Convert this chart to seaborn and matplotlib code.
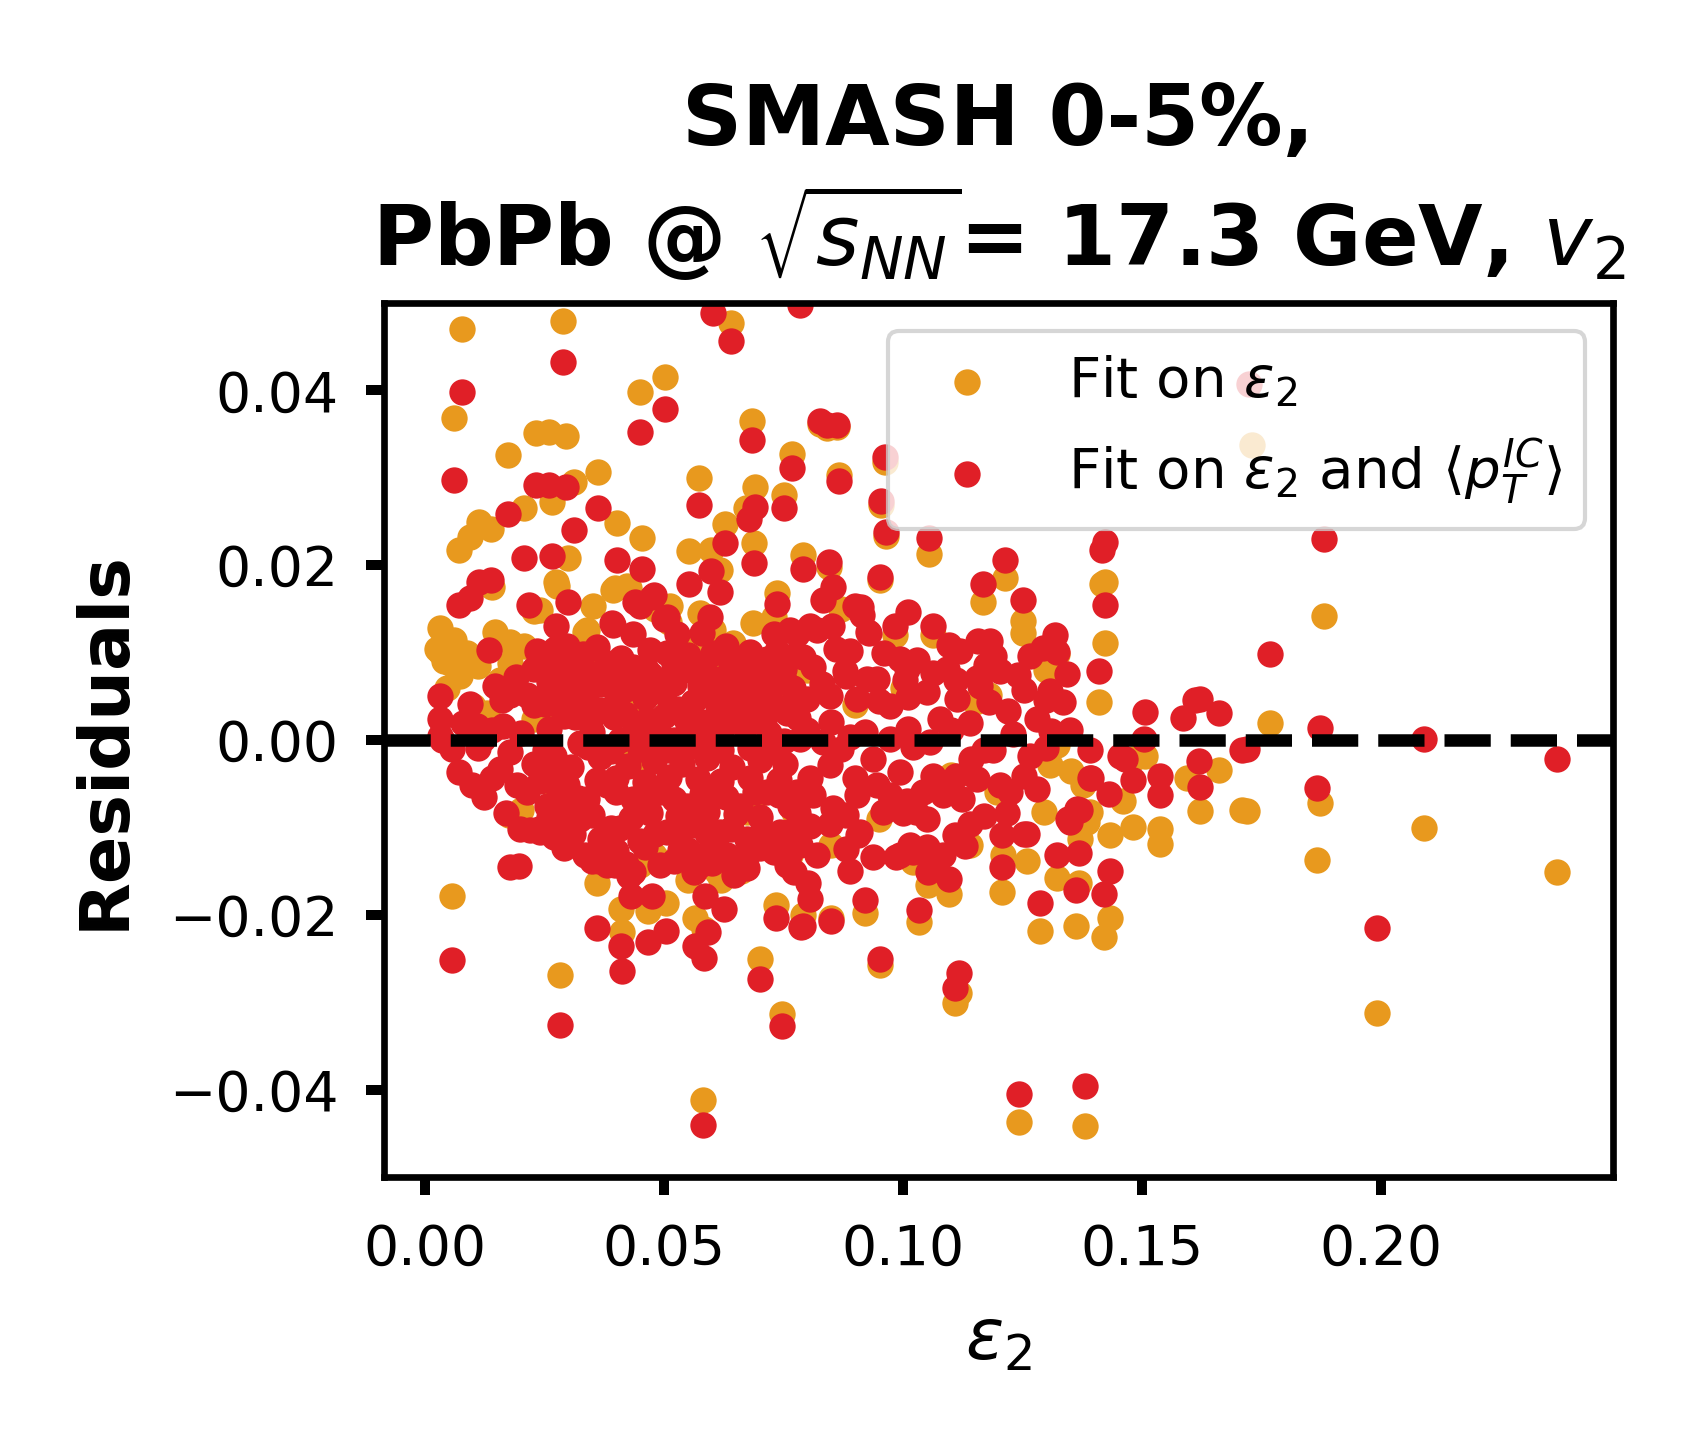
import matplotlib
matplotlib.use("Agg")
import matplotlib.pyplot as plt
import seaborn as sns

# residuals of the v2 fit, one entry per event
# fit on eps2 only (orange)
eps_fit1 = [
    0.0077, 0.0061, 0.0289, 0.0232, 0.0259, 0.0295, 0.0174, 0.0450, 0.0501, 0.0639,
    0.0683, 0.0768, 0.0362, 0.0312, 0.0265, 0.0208, 0.0402, 0.0454, 0.0574, 0.0691,
    0.0750, 0.0628, 0.0688, 0.0672, 0.0552, 0.0598, 0.0617, 0.0736, 0.0070, 0.0095,
    0.0112, 0.0137, 0.0140, 0.0299, 0.0273, 0.0228, 0.0032, 0.0032, 0.0147, 0.0335,
    0.0398, 0.0426, 0.0480, 0.0510,
    0.0826, 0.0840, 0.0861, 0.0865, 0.0962, 0.0954, 0.0964, 0.1055, 0.0791, 0.0846,
    0.0952, 0.1213, 0.1168, 0.1250, 0.1250, 0.1423, 0.1416, 0.1423, 0.1409, 0.0983,
    0.1063, 0.0870, 0.1730,
    0.1881, 0.1768, 0.1866, 0.1872, 0.2089, 0.1991, 0.2369, 0.1660, 0.1719, 0.1708,
    0.1621,
    0.1243, 0.1381, 0.1116, 0.1109, 0.0952, 0.0747, 0.1287, 0.1362, 0.1432, 0.1421,
    0.1206, 0.1321, 0.1369, 0.1432, 0.1482, 0.1538, 0.1538, 0.1594, 0.1506, 0.0791,
    0.0849, 0.0921, 0.1034, 0.1053, 0.1097, 0.1259, 0.1391, 0.1461, 0.1370, 0.1384,
    0.1352, 0.1376, 0.1210, 0.1294, 0.1140, 0.1196, 0.1321, 0.1307,
    0.0056, 0.0283, 0.0582, 0.0409, 0.0411, 0.0467, 0.0504, 0.0565, 0.0583, 0.0701,
    0.0735, 0.0175, 0.0360, 0.0492, 0.0620, 0.0660,
    0.1150, 0.1179, 0.1300, 0.1322, 0.1482,
    0.0024, 0.0052, 0.0087, 0.0073, 0.0178, 0.0206, 0.0241, 0.0276, 0.0178, 0.0157,
    0.0338, 0.0352, 0.0394, 0.0422, 0.0338, 0.0296, 0.0513, 0.0555, 0.0575, 0.0603,
    0.0617, 0.0687, 0.0729, 0.0645, 0.0101, 0.0129, 0.0227, 0.0276, 0.0436, 0.0506,
    0.0631, 0.0729, 0.0261, 0.0450, 0.0422, 0.0687, 0.0673, 0.0596, 0.0478, 0.0380,
    0.0771, 0.0764, 0.0610, 0.0450,
    0.0040, 0.0065, 0.0090, 0.0110, 0.0060, 0.0045, 0.0200, 0.0300, 0.0550, 0.0850,
    0.0900, 0.1000, 0.1100, 0.0800, 0.0950, 0.1020,
]
res_fit1 = [
    0.0470, 0.0368, 0.0479, 0.0351, 0.0352, 0.0348, 0.0326, 0.0398, 0.0415, 0.0477,
    0.0365, 0.0327, 0.0307, 0.0295, 0.0272, 0.0266, 0.0248, 0.0231, 0.0300, 0.0290,
    0.0280, 0.0247, 0.0225, 0.0265, 0.0216, 0.0217, 0.0194, 0.0168, 0.0217, 0.0232,
    0.0250, 0.0242, 0.0175, 0.0208, 0.0181, 0.0148, 0.0128, 0.0101, 0.0124, 0.0124,
    0.0174, 0.0174, 0.0150, 0.0135,
    0.0362, 0.0357, 0.0358, 0.0303, 0.0318, 0.0269, 0.0234, 0.0213, 0.0212, 0.0198,
    0.0183, 0.0185, 0.0158, 0.0136, 0.0122, 0.0181, 0.0178, 0.0111, 0.0043, 0.0120,
    0.0120, 0.0150, 0.0337,
    0.0142, 0.0019, -0.0137, -0.0072, -0.0101, -0.0312, -0.0151, -0.0034, -0.0081, -0.0080,
    -0.0081,
    -0.0437, -0.0442, -0.0289, -0.0301, -0.0258, -0.0314, -0.0219, -0.0213, -0.0204, -0.0225,
    -0.0174, -0.0158, -0.0164, -0.0109, -0.0100, -0.0102, -0.0119, -0.0043, -0.0018, -0.0200,
    -0.0204, -0.0198, -0.0208, -0.0166, -0.0176, -0.0139, -0.0082, -0.0070, -0.0113, -0.0094,
    -0.0036, -0.0052, -0.0131, -0.0082, -0.0120, -0.0060, -0.0006, -0.0029,
    -0.0179, -0.0269, -0.0412, -0.0193, -0.0220, -0.0196, -0.0187, -0.0204, -0.0216, -0.0250,
    -0.0189, -0.0086, -0.0164, -0.0139, -0.0160, -0.0150,
    0.0043, 0.0052, 0.0080, 0.0098, -0.0022,
    0.0104, 0.0088, 0.0100, 0.0073, 0.0112, 0.0107, 0.0149, 0.0176, 0.0088, 0.0069,
    0.0126, 0.0153, 0.0172, 0.0176, 0.0092, 0.0069, 0.0153, 0.0111, 0.0145, 0.0126,
    0.0096, 0.0134, 0.0141, 0.0111, 0.0039, 0.0031, 0.0024, 0.0031, 0.0039, 0.0031,
    0.0051, 0.0047, -0.0048, -0.0022, -0.0014, -0.0075, -0.0082, -0.0128, -0.0132, -0.0105,
    -0.0082, -0.0132, -0.0151, -0.0143,
    0.0090, 0.0082, 0.0095, 0.0085, 0.0115, 0.0060, -0.0080, -0.0120, -0.0160, -0.0120,
    0.0040, 0.0060, -0.0040, 0.0080, -0.0090, -0.0140,
]

# fit on eps2 and <pT^IC> (red)
eps_fit2 = [
    0.0077, 0.0061, 0.0289, 0.0232, 0.0259, 0.0295, 0.0174, 0.0450, 0.0501, 0.0639,
    0.0603, 0.0683, 0.0768, 0.0362, 0.0312, 0.0265, 0.0208, 0.0402, 0.0454, 0.0574,
    0.0691, 0.0750, 0.0628, 0.0688, 0.0677, 0.0552, 0.0598, 0.0617, 0.0736, 0.0070,
    0.0095, 0.0112, 0.0137, 0.0299, 0.0273, 0.0217, 0.0032, 0.0133, 0.0440, 0.0475,
    0.0499, 0.0391, 0.0579, 0.0603, 0.0670,
    0.0785, 0.0826, 0.0840, 0.0861, 0.0865, 0.0962, 0.0954, 0.0964, 0.1055, 0.0791,
    0.0846, 0.0853, 0.0833, 0.0952, 0.1213, 0.1168, 0.1250, 0.1423, 0.1416, 0.1423,
    0.1409, 0.1506, 0.1586, 0.1611, 0.1011, 0.1063, 0.1097, 0.0983, 0.0994, 0.0913,
    0.0927, 0.0806, 0.0851, 0.1157, 0.1182, 0.1318, 0.1293, 0.1342, 0.1220, 0.1154,
    0.1203, 0.1723,
    0.1881, 0.1768, 0.1872, 0.1866, 0.2089, 0.1991, 0.2369, 0.1660, 0.1719, 0.1708,
    0.1621, 0.1621,
    0.1243, 0.1381, 0.1116, 0.1109, 0.0952, 0.0747, 0.1287, 0.1362, 0.1421, 0.1432,
    0.1206, 0.1321, 0.1369, 0.1482, 0.1538, 0.1538, 0.1618, 0.0791, 0.0849, 0.0921,
    0.1034, 0.0889, 0.0806, 0.0802, 0.1053, 0.1097, 0.1108, 0.1140, 0.1206, 0.1259,
    0.0906, 0.0938, 0.0986, 0.1021, 0.1049, 0.1070, 0.0847, 0.1349, 0.1370, 0.1430,
    0.1464, 0.1391,
    0.0056, 0.0283, 0.0582, 0.0178, 0.0196, 0.0360, 0.0409, 0.0411, 0.0467, 0.0504,
    0.0475, 0.0430, 0.0565, 0.0583, 0.0592, 0.0586, 0.0625, 0.0701, 0.0735, 0.0786,
    0.0771, 0.0761, 0.0534, 0.0562, 0.0583, 0.0632, 0.0646, 0.0677, 0.0492, 0.0335,
    0.0363, 0.0398, 0.0426, 0.0199, 0.0238, 0.0269, 0.0070, 0.0098, 0.0123, 0.0036,
    0.0056,
    0.0900, 0.0914, 0.0928, 0.0889, 0.0879, 0.0819, 0.0778, 0.0812, 0.1004, 0.1008,
    0.1063, 0.1091, 0.1174, 0.1322, 0.1266, 0.0945, 0.0924, 0.0847, 0.0798, 0.0774,
    0.0903, 0.0973, 0.1049, 0.1112, 0.1077, 0.1140, 0.1252, 0.1307, 0.1335, 0.1280,
    0.1349, 0.0889, 0.0833, 0.0785, 0.0973, 0.1056, 0.1189, 0.1266, 0.1391, 0.1454,
    0.1503, 0.1394, 0.1363, 0.1346, 0.1203, 0.1224, 0.1280, 0.1252, 0.1217, 0.1252,
    0.1143, 0.1154, 0.1123, 0.1063, 0.1042, 0.1049, 0.1084, 0.0994, 0.0973, 0.1008,
    0.1028, 0.1056, 0.1084, 0.0994, 0.1014, 0.0938, 0.0945, 0.0903, 0.0959, 0.0910,
    0.0847, 0.0805, 0.0778, 0.0812, 0.0805, 0.0785, 0.0819, 0.0854,
    0.0234, 0.0272, 0.0296, 0.0227, 0.0276, 0.0394, 0.0436, 0.0450, 0.0478, 0.0506,
    0.0527, 0.0596, 0.0736, 0.0729, 0.0764, 0.0715, 0.0770, 0.0031, 0.0031, 0.0094,
    0.0080, 0.0108, 0.0146, 0.0178, 0.0213, 0.0227, 0.0164, 0.0122, 0.0310, 0.0338,
    0.0369, 0.0342, 0.0394, 0.0436, 0.0450, 0.0506, 0.0492, 0.0541, 0.0575, 0.0617,
    0.0645, 0.0701, 0.0750, 0.0314, 0.0366, 0.0419, 0.0478, 0.0530, 0.0589, 0.0648,
    0.0701, 0.0757, 0.0157, 0.0192, 0.0178, 0.0227, 0.0269, 0.0306, 0.0366, 0.0425,
    0.0478, 0.0538, 0.0589, 0.0642, 0.0701, 0.0754, 0.0213, 0.0255, 0.0296, 0.0338,
    0.0380, 0.0436, 0.0492, 0.0547, 0.0603, 0.0659, 0.0715, 0.0764, 0.0241, 0.0283,
    0.0324, 0.0366, 0.0408, 0.0450, 0.0506, 0.0561, 0.0617, 0.0673, 0.0743, 0.0380,
    0.0436, 0.0575, 0.0617, 0.0645, 0.0757, 0.0673, 0.0408, 0.0464, 0.0575, 0.0750,
    0.0324, 0.0520,
    # dense core
    0.0330, 0.0360, 0.0410, 0.0470, 0.0550, 0.0630, 0.0680, 0.0790, 0.0860, 0.0960,
    0.1030, 0.1120, 0.1190,
    0.0190, 0.0260, 0.0355, 0.0420, 0.0470, 0.0520, 0.0600, 0.0665, 0.0720, 0.0830,
    0.0880, 0.1110, 0.1160, 0.1240,
    0.0160, 0.0250, 0.0290, 0.0400, 0.0460, 0.0560, 0.0610, 0.0680, 0.0730, 0.0950,
    0.1010, 0.1180, 0.1300,
    0.0140, 0.0200, 0.0260, 0.0350, 0.0440, 0.0490, 0.0550, 0.0620, 0.0670, 0.0720,
    0.0800, 0.0920, 0.1010, 0.1100, 0.1230, 0.1310,
    0.0110, 0.0250, 0.0340, 0.0390, 0.0450, 0.0510, 0.0560, 0.0620, 0.0680, 0.0730,
    0.0870, 0.1020, 0.1170, 0.1300,
    0.0140, 0.0240, 0.0270, 0.0360, 0.0400, 0.0460, 0.0510, 0.0570, 0.0620, 0.0680,
    0.0740, 0.0900, 0.1110,
    0.0170, 0.0260, 0.0300, 0.0350, 0.0430, 0.0470, 0.0530, 0.0590, 0.0650, 0.0700,
    0.0780, 0.0880, 0.1000, 0.1170,
    0.0290, 0.0400, 0.0460, 0.0550, 0.0700, 0.0730, 0.0880, 0.1130,
    0.0290, 0.0345, 0.0395, 0.0455, 0.0500, 0.0545, 0.0605, 0.0655, 0.0710, 0.0780,
    0.0850,
    0.0280, 0.0320, 0.0400, 0.0460, 0.0520, 0.0580, 0.0630, 0.0690, 0.0740,
    0.0220, 0.0310, 0.0390, 0.0480, 0.0530, 0.0590, 0.0640, 0.0700, 0.0760,
    0.0260, 0.0330, 0.0420, 0.0500, 0.0580, 0.0650, 0.0720, 0.0770,
    0.0250, 0.0300, 0.0380, 0.0460, 0.0520, 0.0570, 0.0640, 0.0700, 0.0750,
    0.0350, 0.0420, 0.0520, 0.0600, 0.0660,
]
res_fit2 = [
    0.0398, 0.0297, 0.0432, 0.0292, 0.0292, 0.0290, 0.0259, 0.0352, 0.0379, 0.0457,
    0.0489, 0.0343, 0.0311, 0.0265, 0.0240, 0.0210, 0.0208, 0.0206, 0.0196, 0.0269,
    0.0267, 0.0265, 0.0225, 0.0203, 0.0253, 0.0179, 0.0193, 0.0169, 0.0156, 0.0155,
    0.0162, 0.0181, 0.0183, 0.0158, 0.0130, 0.0155, 0.0050, 0.0103, 0.0158, 0.0164,
    0.0138, 0.0134, 0.0123, 0.0100, 0.0093,
    0.0498, 0.0365, 0.0360, 0.0361, 0.0296, 0.0324, 0.0274, 0.0238, 0.0231, 0.0196,
    0.0204, 0.0175, 0.0160, 0.0187, 0.0206, 0.0179, 0.0160, 0.0227, 0.0217, 0.0155,
    0.0079, 0.0032, 0.0025, 0.0046, 0.0147, 0.0130, 0.0109, 0.0130, 0.0093, 0.0152,
    0.0124, 0.0130, 0.0130, 0.0113, 0.0113, 0.0120, 0.0105, 0.0075, 0.0033, 0.0071,
    0.0079, 0.0407,
    0.0230, 0.0098, 0.0014, -0.0055, 0.0001, -0.0215, -0.0022, 0.0031, -0.0010, -0.0012,
    0.0047, -0.0054,
    -0.0405, -0.0396, -0.0267, -0.0284, -0.0250, -0.0327, -0.0187, -0.0172, -0.0176, -0.0150,
    -0.0145, -0.0131, -0.0129, -0.0046, -0.0063, -0.0041, -0.0024, -0.0213, -0.0207, -0.0183,
    -0.0195, -0.0150, -0.0182, -0.0164, -0.0151, -0.0159, -0.0109, -0.0096, -0.0109, -0.0107,
    -0.0109, -0.0134, -0.0134, -0.0128, -0.0122, -0.0134, -0.0096, -0.0094, -0.0080, -0.0062,
    -0.0022, -0.0043,
    -0.0252, -0.0326, -0.0440, -0.0145, -0.0144, -0.0215, -0.0236, -0.0264, -0.0231, -0.0219,
    -0.0179, -0.0178, -0.0236, -0.0249, -0.0220, -0.0178, -0.0193, -0.0274, -0.0204, -0.0214,
    -0.0151, -0.0132, -0.0126, -0.0151, -0.0132, -0.0132, -0.0155, -0.0128, -0.0143, -0.0132,
    -0.0139, -0.0143, -0.0156, -0.0102, -0.0102, -0.0111, -0.0037, -0.0052, -0.0065, 0.0000,
    -0.0010,
    0.0153, 0.0143, 0.0123, 0.0102, 0.0079, 0.0126, 0.0121, 0.0083, 0.0069, 0.0081,
    0.0077, 0.0081, 0.0086, 0.0101, 0.0096, 0.0070, 0.0070, 0.0050, 0.0047, 0.0043,
    0.0047, 0.0039, 0.0055, 0.0047, 0.0024, 0.0020, 0.0057, 0.0056, 0.0043, 0.0024,
    0.0012, 0.0004, -0.0002, 0.0001, 0.0001, -0.0002, -0.0012, -0.0018, -0.0012, -0.0018,
    0.0001, -0.0044, -0.0079, -0.0090, -0.0052, -0.0060, -0.0056, -0.0041, -0.0083, -0.0107,
    -0.0022, -0.0045, -0.0067, -0.0041, -0.0060, -0.0090, -0.0063, -0.0037, -0.0063, -0.0070,
    -0.0082, -0.0128, -0.0132, -0.0132, -0.0120, -0.0022, -0.0052, -0.0063, -0.0082, -0.0105,
    -0.0029, -0.0044, -0.0060, -0.0063, -0.0098, -0.0120, -0.0132, -0.0078,
    0.0102, 0.0104, 0.0107, 0.0081, 0.0081, 0.0132, 0.0121, 0.0153, 0.0166, 0.0141,
    0.0121, 0.0141, 0.0102, 0.0121, 0.0126, 0.0093, 0.0096, 0.0024, 0.0005, 0.0041,
    0.0020, 0.0016, 0.0062, 0.0051, 0.0051, 0.0040, 0.0016, 0.0001, 0.0064, 0.0043,
    0.0064, 0.0077, 0.0069, 0.0084, 0.0062, 0.0100, 0.0069, 0.0080, 0.0062, 0.0069,
    0.0062, 0.0069, 0.0069, 0.0026, 0.0034, 0.0030, 0.0022, 0.0035, 0.0021, 0.0033,
    0.0025, 0.0031, -0.0033, -0.0052, -0.0014, -0.0027, -0.0018, -0.0031, -0.0020, -0.0030,
    -0.0024, -0.0027, -0.0021, -0.0031, -0.0023, -0.0028, -0.0060, -0.0075, -0.0052, -0.0067,
    -0.0052, -0.0067, -0.0060, -0.0075, -0.0064, -0.0075, -0.0060, -0.0075, -0.0105, -0.0097,
    -0.0090, -0.0113, -0.0101, -0.0116, -0.0105, -0.0097, -0.0105, -0.0113, -0.0105, -0.0143,
    -0.0151, -0.0143, -0.0128, -0.0139, -0.0143, -0.0147, 0.0000, -0.0004, -0.0002, -0.0001,
    -0.0003, 0.0000,
    # dense core
    0.0098, 0.0106, 0.0094, 0.0103, 0.0097, 0.0108, 0.0101, 0.0095, 0.0104, 0.0099,
    0.0092, 0.0102, 0.0096,
    0.0072, 0.0066, 0.0074, 0.0068, 0.0075, 0.0065, 0.0071, 0.0067, 0.0076, 0.0064,
    0.0073, 0.0069, 0.0062, 0.0074,
    0.0046, 0.0041, 0.0049, 0.0043, 0.0048, 0.0044, 0.0042, 0.0047, 0.0040, 0.0045,
    0.0049, 0.0043, 0.0046,
    0.0012, 0.0008, 0.0013, 0.0009, 0.0014, 0.0007, 0.0011, 0.0010, 0.0015, 0.0008,
    0.0012, 0.0009, 0.0013, 0.0011, 0.0007, 0.0010,
    -0.0009, -0.0012, -0.0008, -0.0013, -0.0010, -0.0011, -0.0007, -0.0012, -0.0009, -0.0013,
    -0.0010, -0.0008, -0.0011, -0.0009,
    -0.0043, -0.0047, -0.0041, -0.0046, -0.0044, -0.0048, -0.0042, -0.0045, -0.0047, -0.0043,
    -0.0046, -0.0044, -0.0041,
    -0.0083, -0.0088, -0.0082, -0.0086, -0.0089, -0.0084, -0.0087, -0.0082, -0.0085, -0.0088,
    -0.0083, -0.0086, -0.0084, -0.0087,
    -0.0124, -0.0127, -0.0122, -0.0126, -0.0123, -0.0128, -0.0125, -0.0121,
    0.0027, 0.0022, 0.0026, 0.0021, 0.0028, 0.0024, 0.0020, 0.0027, 0.0023, 0.0025,
    0.0021,
    -0.0061, -0.0066, -0.0060, -0.0064, -0.0068, -0.0062, -0.0065, -0.0059, -0.0063,
    -0.0103, -0.0107, -0.0101, -0.0108, -0.0104, -0.0106, -0.0102, -0.0109, -0.0105,
    0.0056, 0.0052, 0.0058, 0.0054, 0.0057, 0.0053, 0.0055, 0.0059,
    0.0086, 0.0082, 0.0088, 0.0084, 0.0087, 0.0083, 0.0085, 0.0089, 0.0081,
    -0.0139, -0.0142, -0.0138, -0.0141, -0.0137,
]

label_fit1 = r"Fit on $\varepsilon_2$"
label_fit2 = r"Fit on $\varepsilon_2$ and $\langle p_T^{IC}\rangle$"
x_ticks = [0.00, 0.05, 0.10, 0.15, 0.20]
y_ticks = [-0.04, -0.02, 0.00, 0.02, 0.04]

ORANGE = "#E8991E"
RED = "#E01F27"

sns.set_style("ticks", {"axes.edgecolor": "black", "xtick.color": "black",
                        "ytick.color": "black", "text.color": "black",
                        "axes.labelcolor": "black"})
plt.rcParams["font.family"] = ["DejaVu Sans"]

fig = plt.figure(figsize=(1687 / 300, 1452 / 300), dpi=300)
ax = fig.add_axes([0.2276, 0.1894, 0.9561 - 0.2276, 0.7913 - 0.1894])

sns.scatterplot(x=eps_fit1, y=res_fit1, color=ORANGE, s=40, linewidth=0, label=label_fit1, ax=ax)
sns.scatterplot(x=eps_fit2, y=res_fit2, color=RED, s=40, linewidth=0, label=label_fit2, ax=ax)
ax.axhline(0, color="black", linestyle="--", linewidth=3)

ax.set_xlim(-0.0086, 0.2485)
ax.set_ylim(-0.05, 0.05)
ax.set_xticks(x_ticks)
ax.set_yticks(y_ticks)
ax.tick_params(axis="both", labelsize=13.3, length=4.4, width=2.4, pad=6.5)
for spine in ax.spines.values():
    spine.set_linewidth(1.6)

ax.set_xlabel(r"$\varepsilon_2$", fontsize=17, labelpad=7)
ax.set_ylabel("Residuals", fontsize=16.8, fontweight="bold", labelpad=7.5)
ax.set_title("SMASH 0-5%,\nPbPb @ $\\sqrt{s_{NN}}$= 17.3 GeV, $v_2$",
             fontsize=20, fontweight="bold", pad=9, linespacing=1.25)
ax.legend(loc="upper right", fontsize=13.5)

fig.savefig("out.png", dpi=300)
